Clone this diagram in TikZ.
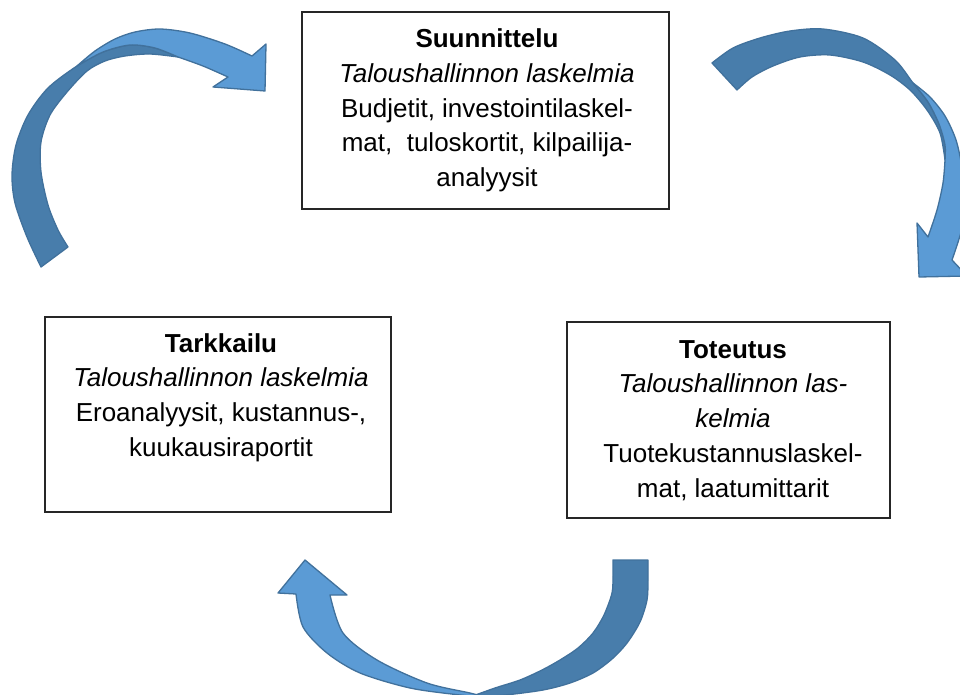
\documentclass[tikz,border=0pt]{standalone}
\usepackage{fontspec}
\setmainfont{Liberation Sans}
\definecolor{arrowdark}{RGB}{72,125,171}
\definecolor{arrowlight}{RGB}{91,155,213}
\definecolor{arrowline}{RGB}{65,113,156}
\tikzset{
  backpart/.style={fill=arrowdark, draw=arrowline, line width=1.3pt, line join=round},
  frontpart/.style={fill=arrowlight, draw=arrowline, line width=1.3pt, line join=round},
  cardbox/.style={draw=black!85, line width=1.5pt, fill=white, inner sep=0pt},
  cardtext/.style={anchor=north, inner sep=0pt, align=center, font=\fontsize{26}{34.7}\selectfont},
}
\begin{document}
\begin{tikzpicture}[x=1pt,y=-1pt]
\useasboundingbox (0,0) rectangle (960,695);
\begin{scope}
\clip (0,0) rectangle (960,695);
% Arrow A (top left): back part
\path[backpart]
  plot[smooth] coordinates {(41,267) (27,237) (15,203) (12,175) (16,145) (28,115) (48,88) (77,66) (103,52) (130,45) (155,48) (178,57)}
  -- plot[smooth] coordinates {(178,57) (150,54) (125,56) (105,61) (87,71) (67,92) (50,115) (41,142) (41,172) (48,205) (58,230) (68,247)}
  -- cycle;
% Arrow A: front part with head
\path[frontpart]
  plot[smooth] coordinates {(77,66) (95,51) (115,39) (135,32) (160,29) (190,33) (225,44) (252,56)}
  -- (266,44) -- (265,91) -- (213,87)
  -- plot[smooth] coordinates {(228,77) (203,66) (178,57)}
  -- plot[smooth] coordinates {(178,57) (155,48) (130,45) (103,52) (77,66)}
  -- cycle;
% Arrow B (top right): back part
\path[backpart]
  plot[smooth] coordinates {(712,63) (733,48) (760,38) (790,31) (823,29) (863,38) (895,60) (913,83) (928,102) (939,124) (945,145) (945,160)}
  -- plot[smooth] coordinates {(945,160) (940,133) (927,110) (910,90) (890,75) (863,62) (830,55) (800,57) (773,66) (752,77) (737,90)}
  -- cycle;
% Arrow B: front part with head
\path[frontpart]
  plot[smooth] coordinates {(913,83) (930,97) (945,116) (956,140) (962,168) (964,198) (962,228) (952,260)}
  -- (967,276) -- (919,277) -- (917,223)
  -- plot[smooth] coordinates {(928,237) (937,210) (943,183) (945,160)}
  -- plot[smooth] coordinates {(945,160) (945,145) (939,124) (928,102) (913,83)}
  -- cycle;
% Arrow C (bottom): back part
\path[backpart]
  plot[smooth] coordinates {(648,560) (648,580) (647,600) (640,622) (627,643) (612,659) (593,673) (570,683) (543,690) (505,695) (470,697)}
  -- plot[smooth] coordinates {(470,697) (495,688) (520,680) (542,670) (560,660) (578,648) (593,633) (604,615) (612,593) (613,575) (613,560)}
  -- cycle;
% Arrow C: front part with head
\path[frontpart]
  plot[smooth] coordinates {(485,697) (460,695) (410,688) (360,673) (327,653) (303,627) (296,594)}
  -- (278,593) -- (305,560) -- (347,595)
  -- plot[smooth] coordinates {(330,595) (343,633) (377,660) (427,683) (470,693) (485,697)}
  -- cycle;
\end{scope}
% Boxes
\node[cardbox, minimum width=367pt, minimum height=197pt] (plan) at (485.5,110.5) {};
\node[cardbox, minimum width=346pt, minimum height=195pt] (watch) at (218,414.5) {};
\node[cardbox, minimum width=323pt, minimum height=196pt] (do) at (728.5,420) {};
\node[cardtext] (plantext) at (487,27.5) {\rule{0pt}{20pt}\textbf{Suunnittelu}\\
  \textit{Taloushallinnon laskelmia}\\
  Budjetit, investointilaskel-\\
  mat,\ \ tuloskortit, kilpailija-\\
  analyysit};
\node[cardtext] (watchtext) at (221,332) {\rule{0pt}{20pt}\textbf{Tarkkailu}\\
  \textit{Taloushallinnon laskelmia}\\
  Eroanalyysit, kustannus-,\\
  kuukausiraportit};
\node[cardtext] (dotext) at (733,338) {\rule{0pt}{20pt}\textbf{Toteutus}\\
  \textit{Taloushallinnon las-}\\
  \textit{kelmia}\\
  Tuotekustannuslaskel-\\
  mat, laatumittarit};
\end{tikzpicture}
\end{document}
